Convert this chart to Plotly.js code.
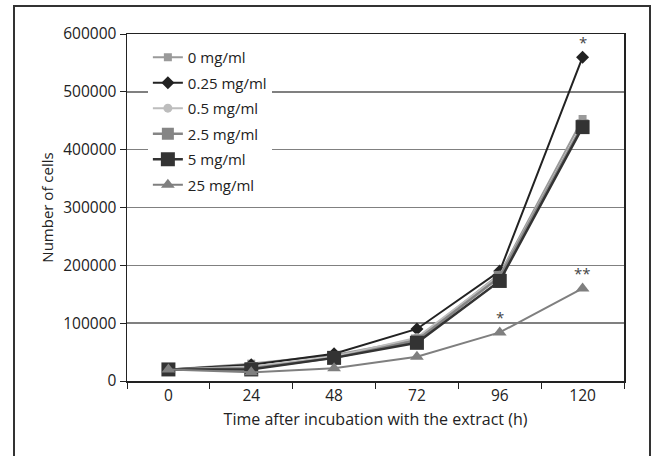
<!DOCTYPE html>
<html>
<head>
<meta charset="utf-8">
<script src="https://cdn.plot.ly/plotly-3.0.1.min.js"></script>
<style>
html,body{margin:0;padding:0;background:#fff;}
#wrap{position:relative;width:655px;height:456px;overflow:hidden;}
#frame{position:absolute;left:13px;top:5px;width:638px;height:470px;border:2px solid #333;box-sizing:border-box;pointer-events:none;z-index:5;}
#chart{position:absolute;left:0;top:0;width:655px;height:456px;}
</style>
</head>
<body>
<div id="wrap"><div id="chart"></div><div id="frame"></div></div>
<script>
const categories = ['0', '24', '48', '72', '96', '120'];
const seriesNames = ['0 mg/ml', '0.25 mg/ml', '0.5 mg/ml', '2.5 mg/ml', '5 mg/ml', '25 mg/ml'];
const v0    = [20000, 30000, 45000, 72000, 185000, 453000];
const v025  = [20000, 28000, 47000, 90000, 190000, 560000];
const v05   = [20000, 25000, 42000, 75000, 183000, 445000];
const v25   = [20000, 22000, 40000, 70000, 180000, 442000];
const v5    = [20000, 20000, 40000, 66000, 173000, 439000];
const v250  = [20000, 15000, 22000, 42000, 84000, 160000];
const yTicks = [0, 100000, 200000, 300000, 400000, 500000, 600000];
// significance marks: [series values, category index, text]
const marks = [[v025, 5, '*'], [v250, 4, '*'], [v250, 5, '**']];

const styles = [
  {color:'#9a9a9a', symbol:'square', size:8, width:2},
  {color:'#222222', symbol:'diamond', size:10, width:2},
  {color:'#bdbdbd', symbol:'circle', size:9, width:2},
  {color:'#858585', symbol:'square', size:12, width:2.5},
  {color:'#333333', symbol:'square', size:14, width:2.5},
  {color:'#7f7f7f', symbol:'triangle-up', size:12, width:2}
];
const allVals = [v0, v025, v05, v25, v5, v250];
const FONT = 'Open Sans, DejaVu Sans, sans-serif';

const traces = allVals.map((vals, i) => ({
  type:'scatter', mode:'lines+markers',
  x: categories, y: vals, name: seriesNames[i],
  legendgroup: 'g' + i,
  line:{color:styles[i].color, width:styles[i].width},
  marker:{color:styles[i].color, symbol:styles[i].symbol, size:styles[i].size, line:{width:0}}
}));

const annotations = marks.map(m => ({
  x: m[1], y: m[0][m[1]], xref:'x', yref:'y',
  text: m[2], showarrow:false, yshift:15,
  font:{family:FONT, size:15, color:'#444'}
}));

const layout = {
  width:655, height:456,
  margin:{l:127, r:31, t:34, b:75},
  paper_bgcolor:'#fff', plot_bgcolor:'#fff',
  font:{family:FONT, size:15, color:'#222'},
  showlegend:true,
  legend:{x:0.042, y:0.98, xanchor:'left', yanchor:'top', bgcolor:'#fff', borderwidth:0,
          font:{family:FONT, size:15, color:'#222'}, traceorder:'grouped', tracegroupgap:3,
          itemwidth:30},
  xaxis:{type:'category', range:[-0.5, 5.5], tickson:'boundaries', ticks:'outside', ticklen:6,
         tickcolor:'#222', showline:true, linecolor:'#222', linewidth:1.5, mirror:true,
         showgrid:false, zeroline:false,
         title:{text:'Time after incubation with the extract (h)', standoff:8, font:{family:FONT, size:16}},
         tickfont:{family:FONT, size:15.5}},
  yaxis:{range:[0, 600000], tickvals:yTicks, ticktext:yTicks.map(String), ticks:'outside', ticklen:6,
         tickcolor:'#222', showline:true, linecolor:'#222', linewidth:1.5, mirror:true,
         showgrid:true, gridcolor:'#808080', gridwidth:1.5, zeroline:false,
         title:{text:'Number of cells', standoff:6, font:{family:FONT, size:15}},
         tickfont:{family:FONT, size:15.5}},
  annotations: annotations
};

Plotly.newPlot('chart', traces, layout, {displayModeBar:false, staticPlot:true});
</script>
</body>
</html>
